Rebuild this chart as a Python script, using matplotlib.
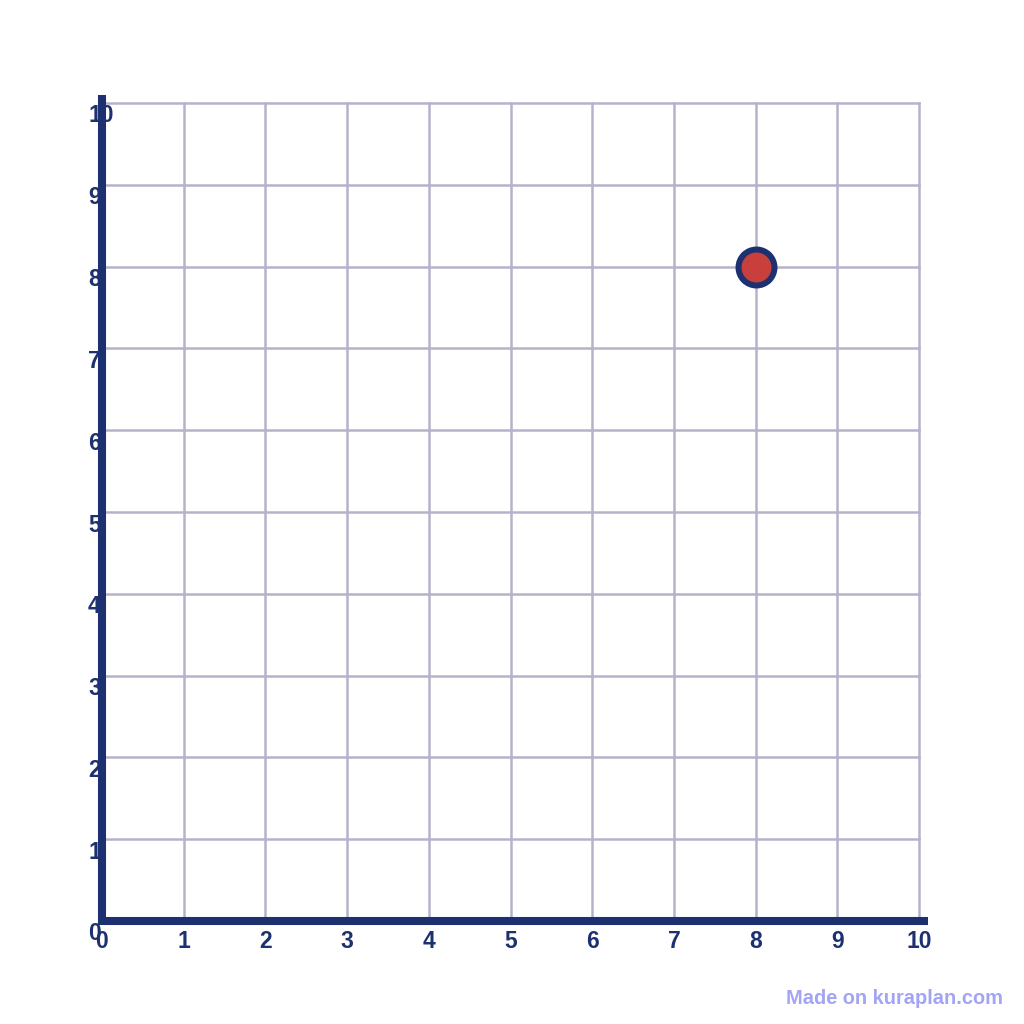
import matplotlib
matplotlib.use("Agg")
import matplotlib.pyplot as plt
import matplotlib.transforms as mtransforms

x_ticks = list(range(0, 11))
y_ticks = list(range(0, 11))
x_labels = [str(v) for v in x_ticks]
y_labels = [str(v) for v in y_ticks]
point_x = [8]
point_y = [8]

navy = "#1d3070"
grid_c = "#b5b2ca"
red = "#c83f3c"

fig = plt.figure(figsize=(10.24, 10.24), dpi=100)
ax = fig.add_axes([102/1024, (1024-921)/1024, (919-102)/1024, (921-103)/1024])
ax.set_xlim(0, 10)
ax.set_ylim(0, 10)
for s in ax.spines.values():
    s.set_visible(False)
ax.set_xticks([]); ax.set_yticks([])

for v in x_ticks:
    ax.plot([v, v], [0, 10], color=grid_c, lw=1.8, clip_on=False, zorder=1)
for v in y_ticks:
    ax.plot([0, 10], [v, v], color=grid_c, lw=1.8, clip_on=False, zorder=1)

# axes lines
ax.plot([0, 0], [-0.05, 10.1], color=navy, lw=5.8, clip_on=False, zorder=3, solid_capstyle="butt")
ax.plot([-0.05, 10.11], [0, 0], color=navy, lw=5.8, clip_on=False, zorder=3, solid_capstyle="butt")

font = dict(family=["Liberation Sans", "DejaVu Sans"], fontweight="bold", fontsize=16.5, color=navy)
off_x = mtransforms.offset_copy(ax.transData, fig=fig, x=0, y=-20, units="dots")
for v, lab in zip(x_ticks, x_labels):
    ax.text(v, 0, lab, transform=off_x, ha="center", va="center", zorder=4, **font)
off_y = mtransforms.offset_copy(ax.transData, fig=fig, x=-14, y=-13, units="dots")
for v, lab in zip(y_ticks, y_labels):
    ax.text(0, v, lab, transform=off_y, ha="left", va="center", zorder=2, **font)

ax.scatter(point_x, point_y, s=670, facecolor=red, edgecolor=navy, linewidth=4.3, zorder=5, clip_on=False)

fig.text(1003/1024, 1 - 999/1024, "Made on kuraplan.com", ha="right", va="center",
         family=["Liberation Sans", "DejaVu Sans"], fontweight="bold", fontsize=14.4, color="#a4a4f4")

fig.savefig("out.png", dpi=100, facecolor="white")
